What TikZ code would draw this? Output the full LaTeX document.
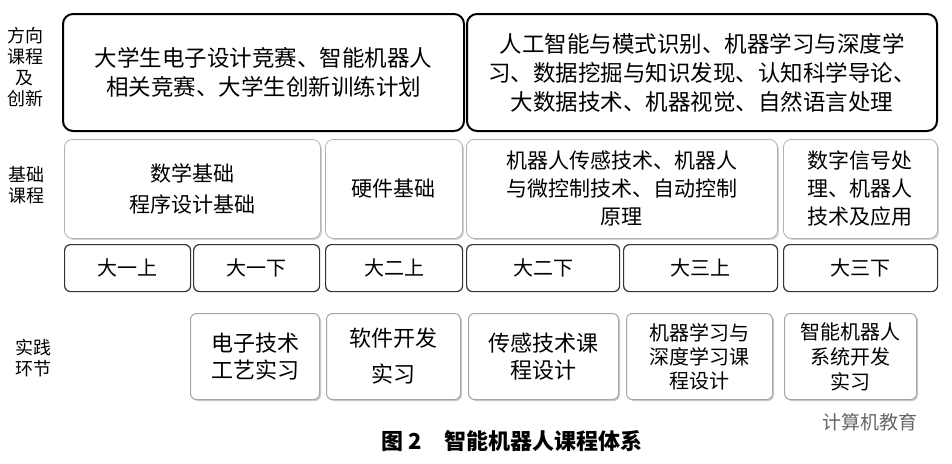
\documentclass[tikz,border=0pt]{standalone}
\usepackage{fontspec}
\newfontfamily\cjk{Noto Sans CJK SC}
\usetikzlibrary{shadows}
\begin{document}
\begin{tikzpicture}[x=1pt,y=-1pt,
  topbox/.style={draw=black,line width=2pt,rounded corners=10pt,anchor=north west,align=center,font=\cjk\fontsize{22.5}{29}\selectfont,inner sep=0pt},
  midbox/.style={draw=gray!60,fill=white,line width=0.8pt,rounded corners=8pt,anchor=north west,align=center,font=\cjk\fontsize{21}{31}\selectfont,inner sep=0pt,drop shadow={shadow xshift=1.5pt,shadow yshift=-1.5pt,opacity=0.35}},
  sembox/.style={draw=black!80,line width=1.2pt,rounded corners=6pt,anchor=north west,align=center,font=\cjk\fontsize{20}{22}\selectfont,inner sep=0pt,fill=white},
  pracbox/.style={draw=gray!70,line width=1pt,rounded corners=6pt,anchor=north west,align=center,font=\cjk\fontsize{22}{27}\selectfont,inner sep=0pt,fill=white,drop shadow={shadow xshift=1.5pt,shadow yshift=-1.5pt,opacity=0.4}},
  side/.style={align=center,font=\cjk\fontsize{18}{21}\selectfont}]
\useasboundingbox (0,0) rectangle (952,463);
\fill[white] (0,0) rectangle (952,463);
\node[side] (l1) at (25,67) {方向\\课程\\及\\创新};
\node[side] (l2) at (27,185) {基础\\课程};
\node[side] (l3) at (34,358) {实践\\环节};
\node[topbox,minimum width=401,minimum height=117] (t1) at (62,13) {大学生电子设计竞赛、智能机器人\\相关竞赛、大学生创新训练计划};
\node[topbox,minimum width=470,minimum height=117] (t2) at (466,13) {人工智能与模式识别、机器学习与深度学\\习、数据挖掘与知识发现、认知科学导论、\\大数据技术、机器视觉、自然语言处理};
\node[midbox,minimum width=256,minimum height=99] (m1) at (64,139) {数学基础\\程序设计基础};
\node[midbox,minimum width=137,minimum height=99] (m2) at (325,139) {硬件基础};
\node[midbox,minimum width=311,minimum height=99,font=\cjk\fontsize{21}{28}\selectfont] (m3) at (466,139) {机器人传感技术、机器人\\与微控制技术、自动控制\\原理};
\node[midbox,minimum width=154,minimum height=99,font=\cjk\fontsize{21}{28}\selectfont] (m4) at (783,139) {数字信号处\\理、机器人\\技术及应用};
\node[sembox,minimum width=126,minimum height=47] (s1) at (64,244) {大一上};
\node[sembox,minimum width=126,minimum height=47] (s2) at (193,244) {大一下};
\node[sembox,minimum width=137,minimum height=47] (s3) at (325,244) {大二上};
\node[sembox,minimum width=153,minimum height=47] (s4) at (466,244) {大二下};
\node[sembox,minimum width=154,minimum height=47] (s5) at (623,244) {大三上};
\node[sembox,minimum width=154,minimum height=47] (s6) at (783,244) {大三下};
\node[pracbox,minimum width=129,minimum height=86] (p1) at (190,313) {电子技术\\工艺实习};
\node[pracbox,minimum width=134,minimum height=86,font=\cjk\fontsize{22}{36}\selectfont] (p2) at (326,313) {软件开发\\实习};
\node[pracbox,minimum width=150,minimum height=86] (p3) at (468,313) {传感技术课\\程设计};
\node[pracbox,minimum width=146,minimum height=86,font=\cjk\fontsize{20}{24}\selectfont] (p4) at (626,313) {机器学习与\\深度学习课\\程设计};
\node[pracbox,minimum width=132,minimum height=86,font=\cjk\fontsize{20}{25}\selectfont] (p5) at (784,313) {智能机器人\\系统开发\\实习};
\node[font=\cjk\bfseries\fontsize{22}{24}\selectfont] (cap) at (512,441) {图 2\quad 智能机器人课程体系};
\node[font=\cjk\fontsize{19}{20}\selectfont,text=gray!80!black] (wm) at (870,422) {计算机教育};
\end{tikzpicture}
\end{document}
